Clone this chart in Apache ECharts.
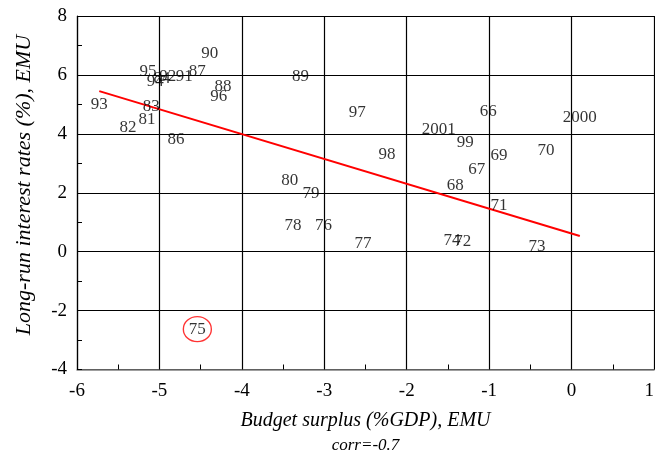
<!DOCTYPE html>
<html>
<head>
<meta charset="utf-8">
<script src="https://cdn.jsdelivr.net/npm/echarts@6/dist/echarts.min.js"></script>
<style>html,body{margin:0;padding:0;background:#fff}#c{width:655px;height:457px}</style>
</head>
<body>
<div id="c"></div>
<script>
// Year labels and values (budget surplus %GDP, long-run interest rate %)
var years = ['93','95','92','91','87','94','84','90','88','96','83','81','82','86','89','97','2001','98','80','79','78','76','77','68','99','67','66','69','70','2000','71','74','72','73','75'];
var surplus = [-5.73,-5.14,-4.90,-4.70,-4.54,-5.05,-4.97,-4.39,-4.23,-4.28,-5.10,-5.15,-5.38,-4.80,-3.29,-2.60,-1.61,-2.24,-3.42,-3.16,-3.38,-3.01,-2.53,-1.41,-1.29,-1.15,-1.01,-0.88,-0.31,0.10,-0.88,-1.45,-1.32,-0.42,-4.54];
var rates = [5.01,6.10,5.96,5.96,6.10,5.76,5.89,6.71,5.59,5.25,4.94,4.47,4.23,3.79,5.96,4.71,4.16,3.31,2.40,1.96,0.90,0.90,0.29,2.23,3.72,2.80,4.77,3.25,3.42,4.57,1.58,0.39,0.33,0.16,-2.63];
var highlighted = ['75'];
// Trend line endpoints
var trendX = [-5.73, 0.10];
var trendY = [5.45, 0.53];
var xTicks = [-6,-5,-4,-3,-2,-1,0,1];
var yTicks = [-4,-2,0,2,4,6,8];
var xTitle = 'Budget surplus (%GDP), EMU';
var yTitle = 'Long-run interest rates (%), EMU';
var corrText = 'corr=-0.7';

var pts = years.map(function(y,i){ return [surplus[i], rates[i], y]; });
var hl = pts.filter(function(p){ return highlighted.indexOf(p[2]) >= 0; });
var trend = trendX.map(function(x,i){ return [x, trendY[i]]; });

var FONT = '"Liberation Serif", "Times New Roman", serif';
var chart = echarts.init(document.getElementById('c'));
chart.setOption({
  animation: false,
  backgroundColor: '#fff',
  grid: {left: 77, top: 16, width: 577, height: 353.5, containLabel: false, outerBoundsMode: 'none'},
  xAxis: {
    type: 'value', min: xTicks[0], max: xTicks[xTicks.length-1], interval: 1,
    name: xTitle, nameLocation: 'middle', nameGap: 41,
    nameTextStyle: {fontFamily: FONT, fontStyle: 'italic', fontSize: 20, color: '#000'},
    axisLine: {show: true, onZero: false, lineStyle: {color: '#808080', width: 1.5}},
    axisTick: {show: true, inside: true, length: 5, lineStyle: {color: '#000'}},
    minorTick: {show: true, splitNumber: 2, length: 5, lineStyle: {color: '#000'}},
    splitLine: {show: true, lineStyle: {color: '#000', width: 1.2}},
    axisLabel: {fontFamily: FONT, fontSize: 19, color: '#000', margin: 12, alignMaxLabel: 'right'}
  },
  yAxis: {
    type: 'value', min: yTicks[0], max: yTicks[yTicks.length-1], interval: 2,
    axisLine: {show: true, onZero: false, lineStyle: {color: '#000', width: 1.2}},
    axisTick: {show: true, inside: true, length: 5, lineStyle: {color: '#000'}},
    minorTick: {show: true, splitNumber: 2, length: 5, lineStyle: {color: '#000'}},
    splitLine: {show: true, lineStyle: {color: '#000', width: 1.2}},
    axisLabel: {fontFamily: FONT, fontSize: 19, color: '#000', margin: 10}
  },
  graphic: [{
    type: 'text', x: 365.5, y: 446,
    style: {text: corrText, font: 'italic 17px ' + FONT, fill: '#000', align: 'center', verticalAlign: 'middle'}
  }, {
    type: 'text', x: 24, y: 185, rotation: Math.PI / 2,
    style: {text: yTitle, font: 'italic 22px ' + FONT, fill: '#000', align: 'center', verticalAlign: 'middle'}
  }],
  series: [
    {
      type: 'line', data: trend, symbol: 'none', z: 3,
      lineStyle: {color: '#ff0000', width: 2}
    },
    {
      type: 'scatter', data: pts, symbolSize: 1, z: 4,
      itemStyle: {color: 'rgba(0,0,0,0)'},
      label: {show: true, position: 'inside', formatter: function(p){ return p.data[2]; },
        fontFamily: FONT, fontSize: 17, color: '#000', textBorderWidth: 0}
    },
    {
      type: 'scatter', data: hl, symbol: 'circle', symbolSize: [28, 25], z: 5,
      itemStyle: {color: 'rgba(0,0,0,0)', borderColor: '#ff0000', borderWidth: 1.3}
    }
  ]
});
</script>
</body>
</html>
